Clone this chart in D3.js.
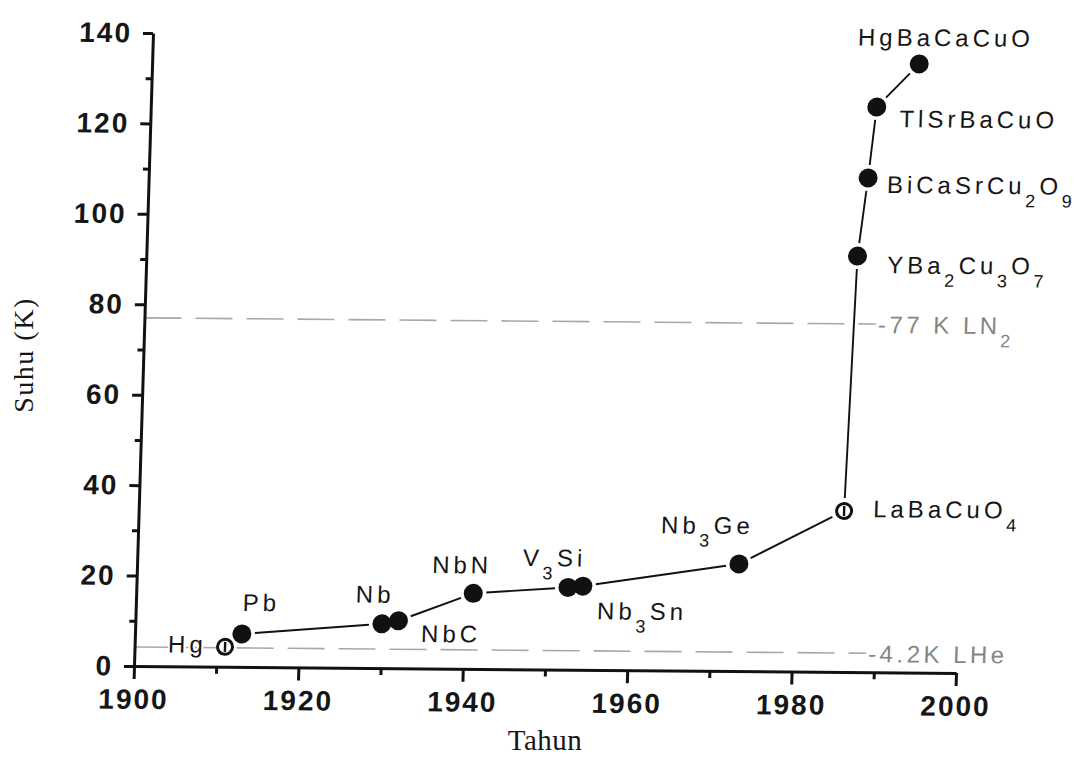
<!DOCTYPE html>
<html><head><meta charset="utf-8">
<script src="https://cdn.jsdelivr.net/npm/d3@7"></script>
<style>
body{margin:0;background:#fff;}
svg{display:block;}
</style></head><body>
<svg id="chart" width="1078" height="757"></svg>
<script>
// ---- data ----
const materials = ["Hg","Pb","Nb","NbC","NbN","V{3}Si","Nb{3}Sn","Nb{3}Ge","LaBaCuO{4}","YBa{2}Cu{3}O{7}","BiCaSrCu{2}O{9}","TlSrBaCuO","HgBaCaCuO"];
const years = [1911, 1913, 1930, 1932, 1941, 1952.5, 1954.3, 1973.2, 1985.8, 1986.5, 1987.5, 1988.3, 1993.3];
const tc = [4.4, 7.3, 9.8, 10.5, 16.7, 18.2, 18.5, 23.7, 35.6, 92, 109.3, 125, 134.6];
const openMarkers = ["Hg","LaBaCuO{4}"];
const refTemps = [77, 4.2];
const refLabels = ["-77 K LN{2}", "-4.2K LHe"];
const refEndYear = 1989;
const xMajorTicks = [1900,1920,1940,1960,1980,2000];
const xMinorTicks = [1910,1930,1950,1970,1990];
const yMajorTicks = [0,20,40,60,80,100,120,140];
const yMinorTicks = [10,30,50,70,90,110,130];
const xTitle = "Tahun";
const yTitle = "Suhu (K)";

// ---- layout (label offsets in px from each point) ----
const labelDx = [-57, 0, -27, 23, -42, -46, 15, -79, 29, 30, 19, 23, -62];
const labelDy = [6, -23, -21, 21, -20, -21, 33, -30, 6, 17, 15, 20, -18];

const W = 1078, H = 757;
const PW = 822, PH = 633;
const svg = d3.select("#chart");
svg.append("rect").attr("width", W).attr("height", H).attr("fill", "#fff");

const x = d3.scaleLinear().domain([1900, 2000]).range([0, PW]);
const y = d3.scaleLinear().domain([0, 140]).range([PH, 0]);

// the scanned original is slightly sheared
const g = svg.append("g").attr("transform", "matrix(1,0.0085,-0.030,1,153,33)");

function richText(sel, str, subSize, shift) {
  const parts = str.split(/(\{\d+\})/).filter(s => s.length);
  let down = false;
  parts.forEach(p => {
    const m = p.match(/^\{(\d+)\}$/);
    if (m) {
      sel.append("tspan").attr("dy", down ? 0 : shift).attr("font-size", subSize).text(m[1]);
      down = true;
    } else {
      sel.append("tspan").attr("dy", down ? -shift : 0).text(p);
      down = false;
    }
  });
}

// reference dashed lines
refTemps.forEach((t, i) => {
  g.append("line")
    .attr("x1", x(1900)).attr("x2", x(refEndYear))
    .attr("y1", y(t)).attr("y2", y(t))
    .attr("stroke", "#a8a8a8").attr("stroke-width", 1.6)
    .attr("stroke-dasharray", "37,14");
  const t2 = g.append("text")
    .attr("x", x(refEndYear) + 2).attr("y", y(t) + 9)
    .attr("font-family", "Liberation Sans, Arial, sans-serif")
    .attr("font-size", 24).attr("letter-spacing", 3.5)
    .attr("fill", "#858585");
  richText(t2, refLabels[i], 18, 13);
});

// axes
const fontTick = "Liberation Sans, Arial, sans-serif";
const xAxis = g.append("g").attr("transform", `translate(0,${PH})`)
  .call(d3.axisBottom(x).tickValues(xMajorTicks).tickFormat(d3.format("d"))
        .tickSize(13).tickSizeOuter(0).tickPadding(10));
const xMinor = g.append("g").attr("transform", `translate(0,${PH})`)
  .call(d3.axisBottom(x).tickValues(xMinorTicks).tickFormat("").tickSize(7).tickSizeOuter(0));
const yAxis = g.append("g")
  .call(d3.axisLeft(y).tickValues(yMajorTicks).tickFormat(d3.format("d"))
        .tickSize(10).tickSizeOuter(0).tickPadding(11));
const yMinor = g.append("g")
  .call(d3.axisLeft(y).tickValues(yMinorTicks).tickFormat("").tickSize(6).tickSizeOuter(0));

[xAxis, xMinor, yAxis, yMinor].forEach(a => {
  a.select(".domain").attr("stroke", "#111").attr("stroke-width", 3);
  a.selectAll(".tick line").attr("stroke", "#111").attr("stroke-width", 3);
  a.selectAll(".tick text")
    .attr("font-family", fontTick).attr("font-weight", "bold")
    .attr("font-size", 28).attr("letter-spacing", 2).attr("fill", "#161616");
});
xMinor.select(".domain").remove();
yMinor.select(".domain").remove();

// connecting line with gaps near markers
const pts = years.map((yr, i) => ({ px: x(yr), py: y(tc[i]) }));
const gap = 13;
for (let i = 0; i < pts.length - 1; i++) {
  const a = pts[i], b = pts[i + 1];
  const dx = b.px - a.px, dy = b.py - a.py;
  const d = Math.hypot(dx, dy);
  if (d <= 2 * gap + 2) continue;
  const ux = dx / d, uy = dy / d;
  g.append("line")
    .attr("x1", a.px + ux * gap).attr("y1", a.py + uy * gap)
    .attr("x2", b.px - ux * gap).attr("y2", b.py - uy * gap)
    .attr("stroke", "#111").attr("stroke-width", 1.9);
}

// markers
materials.forEach((m, i) => {
  const p = pts[i];
  if (openMarkers.includes(m)) {
    g.append("circle").attr("cx", p.px).attr("cy", p.py).attr("r", 7.5)
      .attr("fill", "#fff").attr("stroke", "#111").attr("stroke-width", 3);
    g.append("line").attr("x1", p.px).attr("x2", p.px)
      .attr("y1", p.py - 5).attr("y2", p.py + 5)
      .attr("stroke", "#111").attr("stroke-width", 2.4);
  } else {
    g.append("circle").attr("cx", p.px).attr("cy", p.py).attr("r", 9.5)
      .attr("fill", "#111");
  }
});

// point labels
materials.forEach((m, i) => {
  const p = pts[i];
  const t = g.append("text")
    .attr("x", p.px + labelDx[i]).attr("y", p.py + labelDy[i])
    .attr("font-family", "Liberation Sans, Arial, sans-serif")
    .attr("font-size", 24).attr("letter-spacing", 4)
    .attr("fill", "#161616")
    .attr("stroke", "#fff").attr("stroke-width", 4).attr("paint-order", "stroke")
    .attr("stroke-linejoin", "round");
  richText(t, m, 18, 13);
});

// axis titles
svg.append("text")
  .attr("transform", "translate(33,355) rotate(-90)")
  .attr("text-anchor", "middle")
  .attr("font-family", "Liberation Serif, Times New Roman, serif")
  .attr("font-size", 28).attr("letter-spacing", 1.5).attr("fill", "#161616")
  .text(yTitle);
svg.append("text")
  .attr("x", 545).attr("y", 750)
  .attr("text-anchor", "middle")
  .attr("font-family", "Liberation Serif, Times New Roman, serif")
  .attr("font-size", 29).attr("letter-spacing", 0.5).attr("fill", "#161616")
  .text(xTitle);
</script>
</body></html>
